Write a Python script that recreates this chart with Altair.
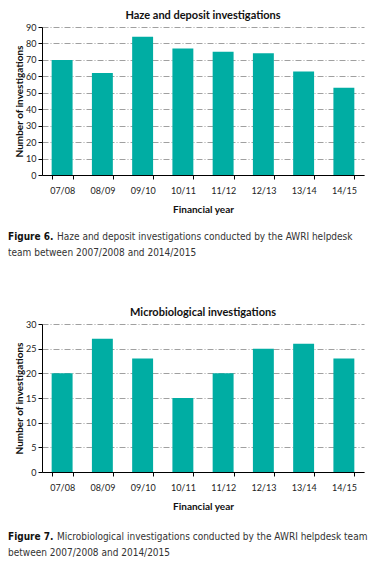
import altair as alt
import pandas as pd

years = ["07/08", "08/09", "09/10", "10/11", "11/12", "12/13", "13/14", "14/15"]
haze = [70, 62, 84, 77, 75, 74, 63, 53]
micro = [20, 27, 23, 15, 20, 25, 26, 23]

title1 = "Haze and deposit investigations"
title2 = "Microbiological investigations"
cap1_bold = "Figure 6."
cap1_lines = ["Haze and deposit investigations conducted by the AWRI helpdesk",
              "team between 2007/2008 and 2014/2015"]
cap2_bold = "Figure 7."
cap2_lines = ["Microbiological investigations conducted by the AWRI helpdesk team",
              "between 2007/2008 and 2014/2015"]

FONT = "Lato"
CAPFONT = "DejaVu Sans Condensed, Liberation Sans Narrow, Roboto, sans-serif"
TEAL = "#00ADA3"
W, H = 322, 148


def text_mark(s, x, y, bold=False):
    return alt.Chart(pd.DataFrame({"t": [s]})).mark_text(
        align="left", baseline="middle", font=CAPFONT, fontSize=10,
        fontWeight="bold" if bold else "normal", color="#111" if bold else "#333"
    ).encode(text="t:N", x=alt.value(x), y=alt.value(y))


def panel(values, title, ymax, step, cap_bold, cap_lines, cap_off):
    df = pd.DataFrame({"year": years, "n": values})
    bars = alt.Chart(df).mark_bar(color=TEAL).encode(
        x=alt.X("year:N", sort=years, title="Financial year",
                scale=alt.Scale(paddingInner=0.48, paddingOuter=0.24),
                axis=alt.Axis(labelAngle=0, tickBand="extent", tickSize=4,
                              labelPadding=7, titlePadding=9, domainColor="black",
                              tickColor="black", labelFontSize=9, titleFontSize=10,
                              labelColor="#222", titleColor="#111",
                              labelFont=FONT, titleFont=FONT, titleFontWeight="bold")),
        y=alt.Y("n:Q", title="Number of investigations",
                scale=alt.Scale(domain=[0, ymax], nice=False),
                axis=alt.Axis(values=list(range(0, ymax + 1, step)), tickSize=4,
                              labelPadding=2, titlePadding=1, domainColor="black",
                              tickColor="black", grid=True, gridColor="#888",
                              gridDash=[6, 2, 1, 2], gridWidth=0.8,
                              labelFontSize=9, titleFontSize=10, labelColor="#222",
                              titleColor="#111", labelFont=FONT, titleFont=FONT,
                              titleFontWeight="bold")),
    )
    layers = [bars,
              text_mark(cap_bold, -34, H + cap_off, bold=True),
              text_mark(cap_lines[0], 15, H + cap_off),
              text_mark(cap_lines[1], -34, H + cap_off + 16)]
    return alt.layer(*layers).properties(
        width=W, height=H,
        title=alt.TitleParams(title, font=FONT, fontSize=11, fontWeight="bold",
                              color="#111", anchor="middle", offset=2),
    )


chart = alt.vconcat(
    panel(haze, title1, 90, 10, cap1_bold, cap1_lines, 62),
    panel(micro, title2, 30, 5, cap2_bold, cap2_lines, 65),
    spacing=49,
).properties(padding={"top": 2, "left": 0, "right": 0, "bottom": 0}).configure_view(stroke=None)

chart.save("out.html", embed_options={"renderer": "svg", "actions": False})
